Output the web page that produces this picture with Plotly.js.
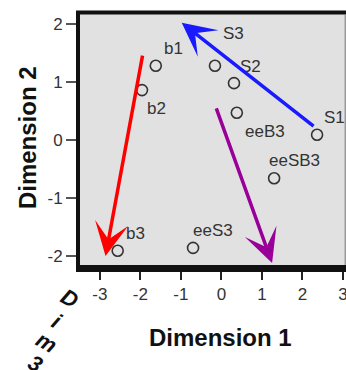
<!DOCTYPE html>
<html>
<head>
<meta charset="utf-8">
<script src="https://cdn.plot.ly/plotly-3.0.1.min.js"></script>
<style>html,body{margin:0;padding:0;background:#fff;}#chart{width:346px;height:370px;}</style>
</head>
<body>
<div id="chart"></div>
<script>
// ---- data ----
const pointNames = ['b1', 'b2', 'S3', 'S2', 'eeB3', 'S1', 'eeSB3', 'b3', 'eeS3'];
const dim1 = [-1.62, -1.96, -0.16, 0.31, 0.38, 2.36, 1.30, -2.56, -0.70];
const dim2 = [1.28, 0.86, 1.28, 0.98, 0.47, 0.09, -0.66, -1.91, -1.86];

const arrowFromX = [-1.94, 2.31, -0.14];
const arrowFromY = [1.48, 0.22, 0.57];
const arrowToX = [-2.86, -0.98, 1.25];
const arrowToY = [-2.00, 2.02, -2.12];

const xTicks = [-3, -2, -1, 0, 1, 2, 3];
const yTicks = [-2, -1, 0, 1, 2];
const dim3Letters = ['D', 'i', 'm', '3'];

// ---- styling ----
const arrowColors = ['#ff0000', '#1a1aff', '#990099'];
const labelShiftX = [18, 14, 19, 17, 28, 17, 20, 18, 20];
const labelShiftY = [17, -18, 32, 17, -19, 17, 18, 17, 17];
const dim3PosX = [-0.0376, -0.0865, -0.124, -0.169];
const dim3PosY = [-0.1315, -0.227, -0.307, -0.394];
const FONT = 'Liberation Sans, Arial, sans-serif';

const annotations = [];
pointNames.forEach((n, i) => {
  annotations.push({
    x: dim1[i], y: dim2[i], xref: 'x', yref: 'y', text: n, showarrow: false,
    xshift: labelShiftX[i], yshift: labelShiftY[i],
    font: {family: FONT, size: 17, color: '#333'}
  });
});
arrowColors.forEach((c, i) => {
  annotations.push({
    x: arrowToX[i], y: arrowToY[i], ax: arrowFromX[i], ay: arrowFromY[i],
    xref: 'x', yref: 'y', axref: 'x', ayref: 'y', text: '', showarrow: true,
    arrowhead: 3, arrowsize: 1.6, arrowwidth: 3.5, arrowcolor: c, standoff: 0
  });
});
annotations.push({
  xref: 'paper', yref: 'paper', x: 0.530, y: -0.287, text: '<b>Dimension 1</b>',
  showarrow: false, xanchor: 'center', yanchor: 'middle',
  font: {family: FONT, size: 24, color: '#111'}
});
annotations.push({
  xref: 'paper', yref: 'paper', x: -0.195, y: 0.506, text: '<b>Dimension 2</b>',
  showarrow: false, xanchor: 'center', yanchor: 'middle', textangle: -90,
  font: {family: FONT, size: 24, color: '#111'}
});
dim3Letters.forEach((l, i) => {
  annotations.push({
    xref: 'paper', yref: 'paper', x: dim3PosX[i], y: dim3PosY[i], text: '<b><i>' + l + '</i></b>',
    showarrow: false, xanchor: 'center', yanchor: 'middle', textangle: 30,
    font: {family: FONT, size: 22, color: '#111'}
  });
});

const trace = {
  x: dim1, y: dim2, text: pointNames, type: 'scatter', mode: 'markers',
  marker: {symbol: 'circle-open', size: 11, color: '#333', line: {width: 1.6}},
  hoverinfo: 'text', showlegend: false
};

const layout = {
  width: 346, height: 370,
  margin: {l: 80, r: 0, t: 14, b: 105},
  paper_bgcolor: '#ffffff', plot_bgcolor: '#e1e1e1',
  showlegend: false,
  xaxis: {
    range: [-3.49, 3.074], tickvals: xTicks, ticktext: xTicks.map(String),
    showgrid: false, zeroline: false, showline: true, linewidth: 7, linecolor: '#111',
    ticks: 'outside', ticklen: 8, tickwidth: 2, tickcolor: '#222',
    ticklabeloverflow: 'allow',
    tickfont: {family: FONT, size: 17, color: '#333'}, automargin: false, fixedrange: true
  },
  yaxis: {
    range: [-2.155, 2.172], tickvals: yTicks, ticktext: yTicks.map(String),
    showgrid: false, zeroline: false, showline: true, linewidth: 4, linecolor: '#111',
    ticks: 'outside', ticklen: 10, tickwidth: 1.5, tickcolor: '#555',
    tickfont: {family: FONT, size: 17, color: '#333'}, automargin: false, fixedrange: true
  },
  shapes: [
    {type: 'line', xref: 'paper', yref: 'paper', x0: -0.015, x1: 1, y0: 1.006, y1: 1.006,
     line: {color: '#111', width: 4}},
    {type: 'line', xref: 'paper', yref: 'paper', x0: 0.997, x1: 0.997, y0: 0, y1: 1,
     line: {color: '#777', width: 1}}
  ],
  annotations: annotations
};

Plotly.newPlot('chart', [trace], layout, {displayModeBar: false, staticPlot: true});
</script>
</body>
</html>
